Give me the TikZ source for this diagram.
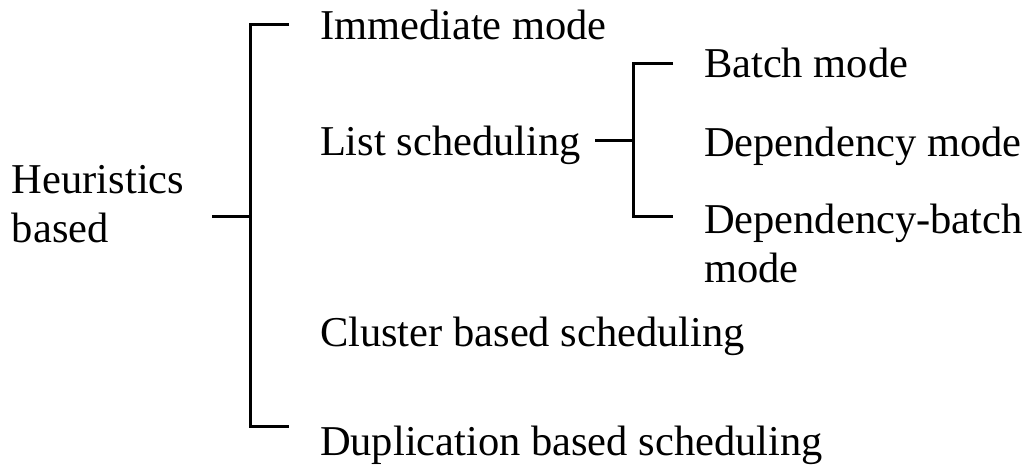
\documentclass[tikz,border=0pt]{standalone}
\usepackage{fontspec}
\setmainfont{Liberation Serif}
\begin{document}
\begin{tikzpicture}[x=1pt,y=-1pt,
  lbl/.style={anchor=base west,inner sep=0pt,outer sep=0pt,
    font=\fontsize{42.5}{49}\selectfont,align=left},
  brk/.style={line width=3pt,line cap=butt,line join=miter}]
\useasboundingbox (0,0) rectangle (1028,473);

% labels (two-line labels are placed by the baseline of their last line)
\node[lbl] (root) at (12,243) {Heuristics\\based};
\node[lbl] (imm)  at (320,40)  {Immediate mode};
\node[lbl] (list) at (320,156) {List scheduling};
\node[lbl] (clu)  at (320,346) {Cluster based scheduling};
\node[lbl] (dup)  at (320,455) {Duplication based scheduling};
\node[lbl] (bat)  at (704,78)  {Batch mode};
\node[lbl] (dep)  at (704,157) {Dependency mode};
\node[lbl] (dbm)  at (704,282) {Dependency-batch\\mode};

% main bracket
\coordinate (rs) at (212,217);
\coordinate (rv) at (250,217);
\coordinate (rt) at (250,25);
\coordinate (rb) at (250,426);
\coordinate (rte) at (289,25);
\coordinate (rbe) at (289,426);
\draw[brk] (rs) -- (rv);
\draw[brk] (rte) -- (rt) -- (rb) -- (rbe);

% sub-bracket of list scheduling
\coordinate (ls) at (595,141);
\coordinate (lv) at (633,141);
\coordinate (lt) at (633,64);
\coordinate (lb) at (633,217);
\coordinate (lte) at (673,64);
\coordinate (lbe) at (673,217);
\draw[brk] (ls) -- (lv);
\draw[brk] (lte) -- (lt) -- (lb) -- (lbe);
\end{tikzpicture}
\end{document}
